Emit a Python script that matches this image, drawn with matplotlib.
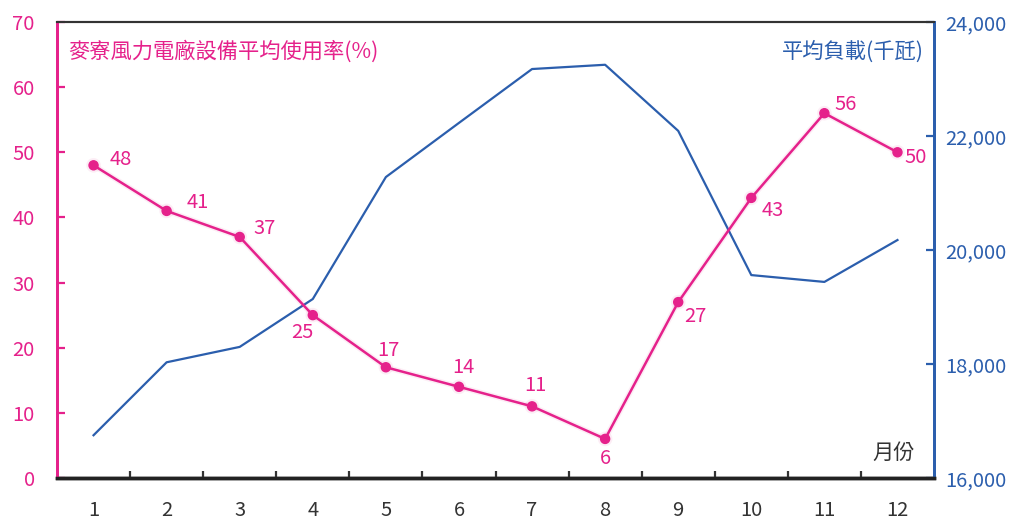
import matplotlib
matplotlib.use('Agg')
import matplotlib.pyplot as plt
import matplotlib.patheffects as pe
from matplotlib.ticker import FuncFormatter, MultipleLocator

plt.rcParams['font.family'] = ['Noto Sans CJK TC', 'DejaVu Sans']

# Data
months = [1, 2, 3, 4, 5, 6, 7, 8, 9, 10, 11, 12]
usage_rate = [48, 41, 37, 25, 17, 14, 11, 6, 27, 43, 56, 50]
avg_load = [16750, 18030, 18300, 19140, 21280, 22230, 23175, 23250, 22090, 19560, 19440, 20175]

# label offsets in pixels (dx, dy)
label_offsets = [(27, 6), (31, 8), (25, 8), (-10, -17), (3, 17), (4, 19),
                 (3, 21), (0, -20), (17, -14), (21, -13), (21, 9), (18, -5)]

pink = '#e5218b'
blue = '#2b5ead'
dark = '#333333'

fig = plt.figure(figsize=(10.16, 5.24), dpi=100)
ax = fig.add_axes([0.0561, 0.0878, 0.8632, 0.8702])
ax2 = ax.twinx()

# blue load line (right axis)
ax2.plot(months, avg_load, color=blue, linewidth=1.6, zorder=2)
ax2.set_ylim(16000, 24000)
ax2.yaxis.set_major_locator(MultipleLocator(2000))
ax2.yaxis.set_major_formatter(FuncFormatter(lambda v, p: f'{int(v):,}'))

# pink usage line on top
ax.set_zorder(ax2.get_zorder() + 1)
ax.patch.set_visible(False)
ax2.patch.set_facecolor('#f1f1ec')
ax.plot(months, usage_rate, color=pink, linewidth=1.8, marker='o', markersize=6.5,
        path_effects=[pe.SimpleLineShadow(offset=(0, 0), shadow_color=pink, alpha=0.08, linewidth=4),
                      pe.Normal()])
for m, v, (dx, dy) in zip(months, usage_rate, label_offsets):
    ax.annotate(str(v), (m, v), xytext=(dx, dy), textcoords='offset pixels',
                ha='center', va='center', color=pink, fontsize=14.5)

ax.set_xlim(0.5, 12.5)
ax.set_ylim(0, 70)
ax.yaxis.set_major_locator(MultipleLocator(10))
ax.set_xticks(months)
ax.set_xticks([m + 0.5 for m in months[:-1]], minor=True)

ax.tick_params(axis='x', which='major', length=0, pad=16, labelsize=14.5, labelcolor=dark)
ax.tick_params(axis='x', which='minor', direction='in', length=5, width=1.6, color=dark)
ax.tick_params(axis='y', direction='in', length=6, width=1.6, color=pink,
               labelcolor=pink, labelsize=14.5, pad=16)
ax2.tick_params(axis='y', direction='in', length=6, width=1.6, color=blue,
                labelcolor=blue, labelsize=14.5, pad=8)

for a in (ax, ax2):
    a.spines['left'].set_color(pink)
    a.spines['left'].set_linewidth(2)
    a.spines['right'].set_color(blue)
    a.spines['right'].set_linewidth(2)
    a.spines['bottom'].set_color('#222222')
    a.spines['bottom'].set_linewidth(2.5)
    a.spines['top'].set_color('#333333')
    a.spines['top'].set_linewidth(1.5)

ax.text(0.013, 0.935, '麥寮風力電廠設備平均使用率(%)', transform=ax.transAxes,
        color=pink, fontsize=15.3, ha='left', va='center')
ax.text(0.989, 0.935, '平均負載(千瓩)', transform=ax.transAxes,
        color=blue, fontsize=15.3, ha='right', va='center')
ax.text(0.978, 0.055, '月份', transform=ax.transAxes,
        color=dark, fontsize=15.3, ha='right', va='center')

fig.savefig('out.png', dpi=100)
